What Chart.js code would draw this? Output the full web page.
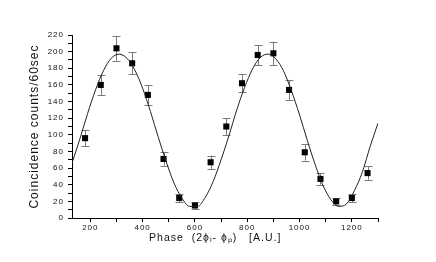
<!DOCTYPE html>
<html>
<head>
<meta charset="utf-8">
<script src="https://cdn.jsdelivr.net/npm/chart.js@4"></script>
<style>
  html, body { margin: 0; padding: 0; background: #fff; }
  #wrap { width: 436px; height: 262px; }
</style>
</head>
<body>
<div id="wrap"><canvas id="chart"></canvas></div>
<script>
// measured points
const phase = [180, 240, 300, 360, 420, 480, 540, 600, 660, 720, 780, 840, 900, 960, 1020, 1080, 1140, 1200, 1260];
const counts = [96, 160, 204, 186, 148, 71, 24, 15, 67, 110, 162, 196, 198, 154, 79, 47, 20, 24, 54];
const errors = [10, 12, 15, 13, 12, 8, 5, 4, 8, 10, 11, 12, 14, 12, 10, 7, 4, 5, 8];

// fitted curve
const fitX = [130, 160, 190, 220, 250, 280, 310, 340, 370, 400, 430, 460, 490, 520, 550, 580, 610, 640, 670, 700,
  730, 760, 790, 820, 850, 880, 910, 940, 970, 1000, 1030, 1060, 1090, 1120, 1150, 1180, 1210, 1240, 1270, 1300];
const fitY = [66, 95, 126, 154, 177, 192, 197, 192, 178, 156, 128, 97, 68, 42, 24, 14, 14, 25, 44, 70,
  99, 130, 157, 179, 193, 197, 191, 176, 152, 124, 93, 64, 39, 22, 14, 17, 33, 55, 86, 114];

const xTicks = { min: 130, max: 1300, step: 100 };
const yTicks = { min: 0, max: 220, step: 10 };

const errorBars = {
  id: "errorBars",
  beforeDatasetsDraw(chart) {
    const { ctx, scales } = chart;
    ctx.save();
    ctx.strokeStyle = "#7a7a7a";
    ctx.lineWidth = 1;
    phase.forEach((p, i) => {
      const x = Math.round(scales.x.getPixelForValue(p)) + 0.5;
      const yTop = scales.y.getPixelForValue(counts[i] + errors[i]);
      const yBot = scales.y.getPixelForValue(counts[i] - errors[i]);
      ctx.beginPath();
      ctx.moveTo(x, yTop);
      ctx.lineTo(x, yBot);
      ctx.moveTo(x - 4, Math.round(yTop) + 0.5);
      ctx.lineTo(x + 4, Math.round(yTop) + 0.5);
      ctx.moveTo(x - 4, Math.round(yBot) + 0.5);
      ctx.lineTo(x + 4, Math.round(yBot) + 0.5);
      ctx.stroke();
    });
    ctx.restore();
  },
};

const spacing = {
  id: "spacing",
  beforeDraw(chart) {
    chart.ctx.letterSpacing = "1px";
  },
};

const ctx = document.getElementById("chart").getContext("2d");
new Chart(ctx, {
  type: "scatter",
  data: {
    datasets: [
      {
        type: "line",
        data: fitX.map((x, i) => ({ x: x, y: fitY[i] })),
        borderColor: "#222222",
        borderWidth: 1,
        pointRadius: 0,
        cubicInterpolationMode: "monotone",
        fill: false,
      },
      {
        data: phase.map((x, i) => ({ x: x, y: counts[i] })),
        pointStyle: "rect",
        pointRadius: 4.3,
        backgroundColor: "#000000",
        borderColor: "#000000",
        borderWidth: 0,
      },
    ],
  },
  plugins: [errorBars, spacing],
  options: {
    responsive: true,
    maintainAspectRatio: false,
    animation: false,
    layout: {
      padding: { left: 0, right: 58, top: 35, bottom: 0 },
    },
    scales: {
      x: {
        type: "linear",
        min: xTicks.min,
        max: xTicks.max,
        afterFit: (scale) => { scale.height = 44; },
        grid: { drawOnChartArea: false, drawTicks: true, tickLength: 4, tickColor: "#000" },
        border: { color: "#000", width: 1 },
        ticks: {
          stepSize: xTicks.step,
          includeBounds: false,
          maxRotation: 0,
          autoSkip: false,
          padding: 1,
          color: "#111",
          font: { family: "Liberation Sans, Arial", size: 8 },
          callback: (v) => (v % 200 === 0 ? v : ""),
        },
        title: {
          display: true,
          text: "Phase  (2ϕᵢ- ϕₚ)   [A.U.]     ",
          color: "#111",
          font: { family: "Liberation Sans, Arial", size: 10.5 },
          padding: { top: 0, bottom: 18 },
        },
      },
      y: {
        min: yTicks.min,
        max: yTicks.max,
        afterFit: (scale) => { scale.width = 72; },
        grid: { drawOnChartArea: false, drawTicks: true, tickLength: 4, tickColor: "#000" },
        border: { color: "#000", width: 1 },
        ticks: {
          stepSize: yTicks.step,
          autoSkip: false,
          padding: 4,
          color: "#111",
          font: { family: "Liberation Sans, Arial", size: 8 },
          callback: (v) => (v % 20 === 0 ? v : ""),
        },
        title: {
          display: true,
          text: "Coincidence counts/60sec",
          color: "#111",
          font: { family: "Liberation Sans, Arial", size: 12 },
          padding: { top: 27, bottom: 0 },
        },
      },
    },
    plugins: {
      legend: { display: false },
      tooltip: { enabled: false },
    },
  },
});
</script>
</body>
</html>
